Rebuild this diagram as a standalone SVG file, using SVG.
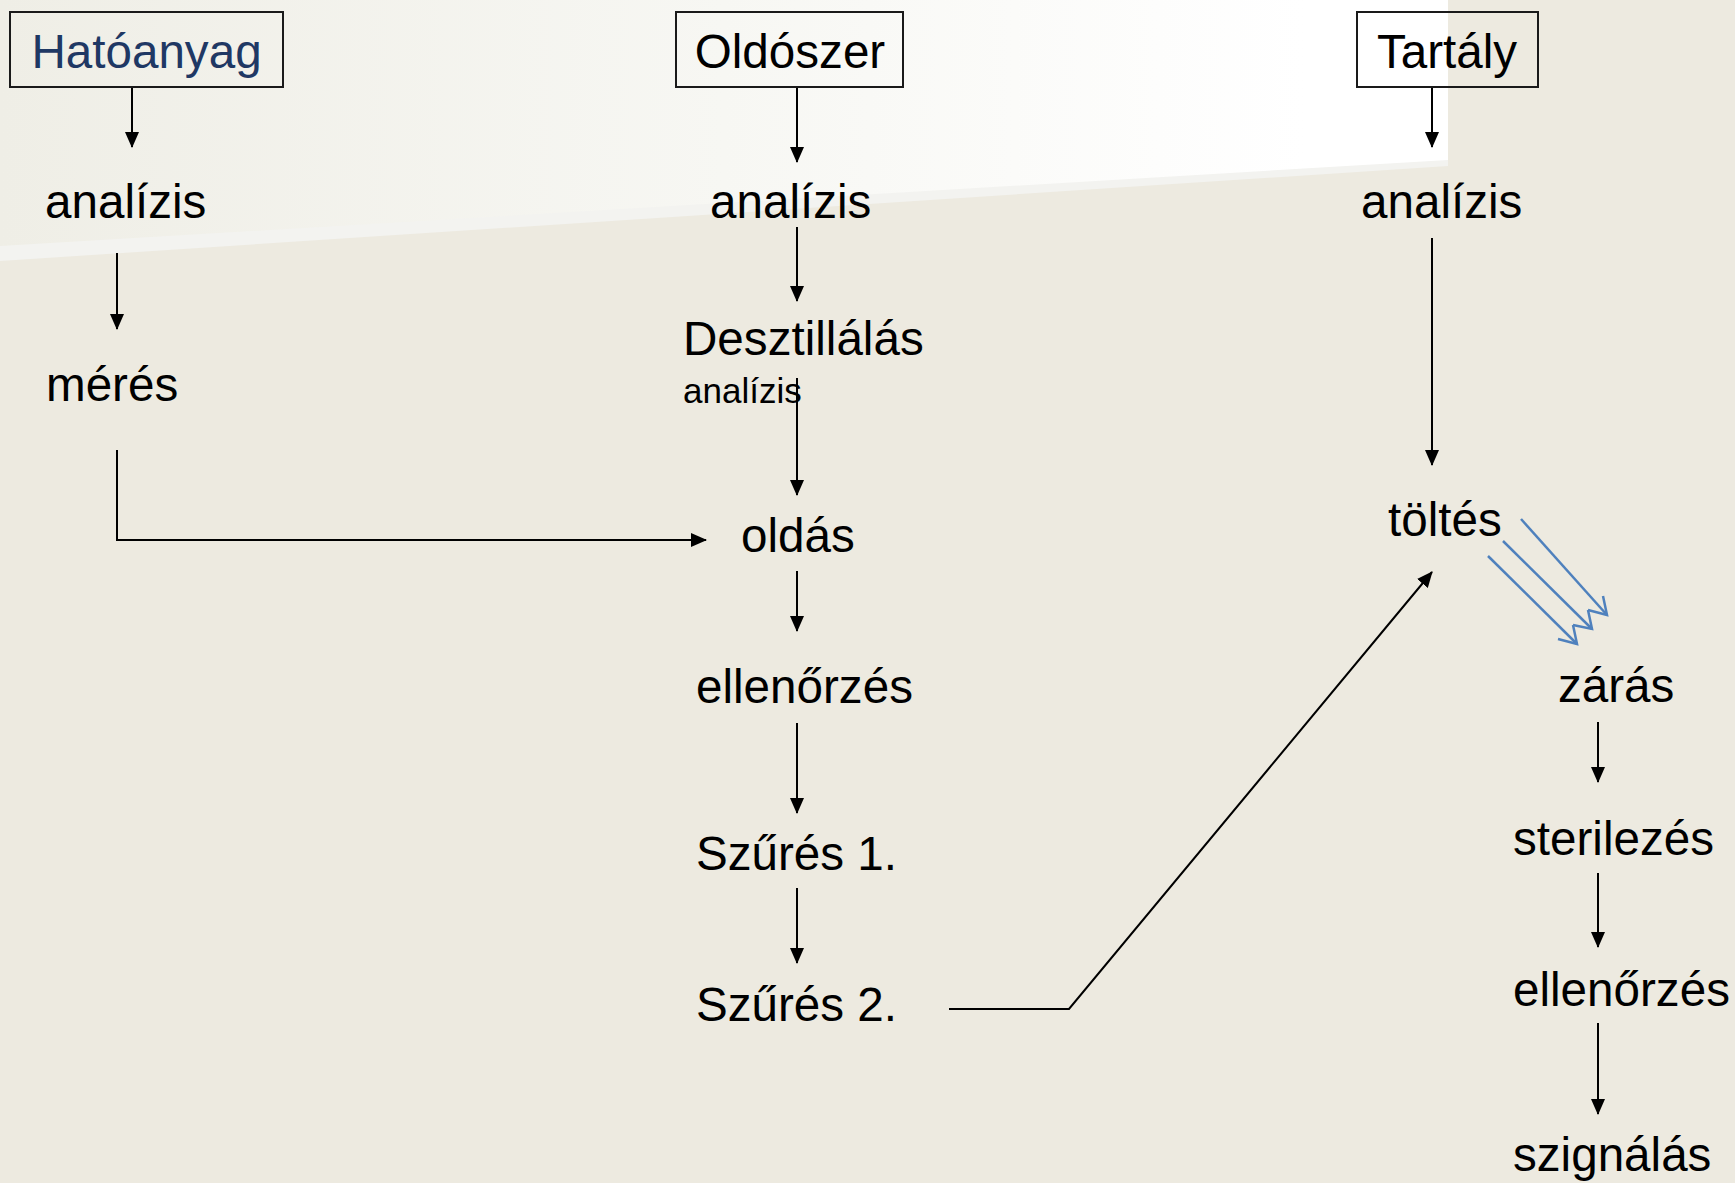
<svg xmlns="http://www.w3.org/2000/svg" width="1735" height="1183" viewBox="0 0 1735 1183">
  <defs>
    <linearGradient id="topGrad" x1="0" y1="0" x2="1448" y2="0" gradientUnits="userSpaceOnUse">
      <stop offset="0" stop-color="#EFEEE6"/>
      <stop offset="0.5" stop-color="#F7F7F3"/>
      <stop offset="0.9" stop-color="#FFFFFF"/>
      <stop offset="1" stop-color="#FFFFFF"/>
    </linearGradient>
    <marker id="arr" markerUnits="userSpaceOnUse" markerWidth="16" markerHeight="14" refX="15" refY="7" orient="auto">
      <path d="M0,0 L16,7 L0,14 Z" fill="#000"/>
    </marker>
    <style>
      .t { font-family: "Liberation Sans", Arial, sans-serif; font-size: 47.6px; fill: #000; }
      .s { font-family: "Liberation Sans", Arial, sans-serif; font-size: 35px; fill: #000; }
      .box { fill: none; stroke: #1a1a1a; stroke-width: 2; }
      .c { fill: none; stroke: #000; stroke-width: 2; }
      .ca { fill: none; stroke: #000; stroke-width: 2; marker-end: url(#arr); }
      .b { fill: none; stroke: #4F81BD; stroke-width: 2.5; }
    </style>
  </defs>

  <!-- background -->
  <rect x="0" y="0" width="1735" height="1183" fill="#EDEAE0"/>
  <polygon points="0,0 1448,0 1448,162 0,247" fill="url(#topGrad)"/>
  <polygon points="0,246 1448,160 1448,166 0,261" fill="#F3F3F0"/>

  <!-- connectors -->
  <g id="connectors">
    <line class="ca" x1="132" y1="87" x2="132" y2="147"/>
    <line class="ca" x1="117" y1="253" x2="117" y2="329"/>
    <polyline class="ca" points="117,450 117,540 706,540"/>

    <line class="ca" x1="797" y1="87" x2="797" y2="162"/>
    <line class="ca" x1="797" y1="227" x2="797" y2="301"/>
    <line class="ca" x1="797" y1="378" x2="797" y2="495"/>
    <line class="ca" x1="797" y1="571" x2="797" y2="631"/>
    <line class="ca" x1="797" y1="723" x2="797" y2="813"/>
    <line class="ca" x1="797" y1="888" x2="797" y2="963"/>
    <polyline class="ca" points="949,1009 1069,1009 1432,572"/>

    <line class="ca" x1="1432" y1="87" x2="1432" y2="147"/>
    <line class="ca" x1="1432" y1="238" x2="1432" y2="465"/>

    <line class="ca" x1="1598" y1="722" x2="1598" y2="782"/>
    <line class="ca" x1="1598" y1="873" x2="1598" y2="947"/>
    <line class="ca" x1="1598" y1="1023" x2="1598" y2="1114"/>

    <!-- blue triple arrows -->
    <line class="b" x1="1521" y1="519" x2="1607" y2="615"/>
    <polyline class="b" points="1603,596 1607,615 1588,610"/>
    <line class="b" x1="1503" y1="541" x2="1592" y2="629"/>
    <polyline class="b" points="1588,610 1592,629 1573,625"/>
    <line class="b" x1="1488" y1="556" x2="1577" y2="644"/>
    <polyline class="b" points="1573,625 1577,644 1558,639"/>
  </g>

  <!-- nodes -->
  <g id="n-hatoanyag">
    <rect class="box" x="10" y="12" width="273" height="75"/>
    <text class="t" x="146.5" y="68" text-anchor="middle" style="fill:#1F3864">Hatóanyag</text>
  </g>
  <g id="n-analizis1"><text class="t" x="45" y="218">analízis</text></g>
  <g id="n-meres"><text class="t" x="46" y="401">mérés</text></g>

  <g id="n-oldoszer">
    <rect class="box" x="676" y="12" width="227" height="75"/>
    <text class="t" x="790" y="68" text-anchor="middle">Oldószer</text>
  </g>
  <g id="n-analizis2"><text class="t" x="710" y="218">analízis</text></g>
  <g id="n-desztillalas">
    <text class="t" x="683" y="355">Desztillálás</text>
    <text class="s" x="683" y="403">analízis</text>
  </g>
  <g id="n-oldas"><text class="t" x="741" y="552">oldás</text></g>
  <g id="n-ellenorzes1"><text class="t" x="696" y="703">ellenőrzés</text></g>
  <g id="n-szures1"><text class="t" x="696" y="870">Szűrés 1.</text></g>
  <g id="n-szures2"><text class="t" x="696" y="1021">Szűrés 2.</text></g>

  <g id="n-tartaly">
    <rect class="box" x="1357" y="12" width="181" height="75"/>
    <text class="t" x="1447" y="68" text-anchor="middle">Tartály</text>
  </g>
  <g id="n-analizis3"><text class="t" x="1361" y="218">analízis</text></g>
  <g id="n-toltes"><text class="t" x="1388" y="536">töltés</text></g>
  <g id="n-zaras"><text class="t" x="1558" y="702">zárás</text></g>
  <g id="n-sterilezes"><text class="t" x="1513" y="855">sterilezés</text></g>
  <g id="n-ellenorzes2"><text class="t" x="1513" y="1006">ellenőrzés</text></g>
  <g id="n-szignalas"><text class="t" x="1513" y="1171">szignálás</text></g>
</svg>
